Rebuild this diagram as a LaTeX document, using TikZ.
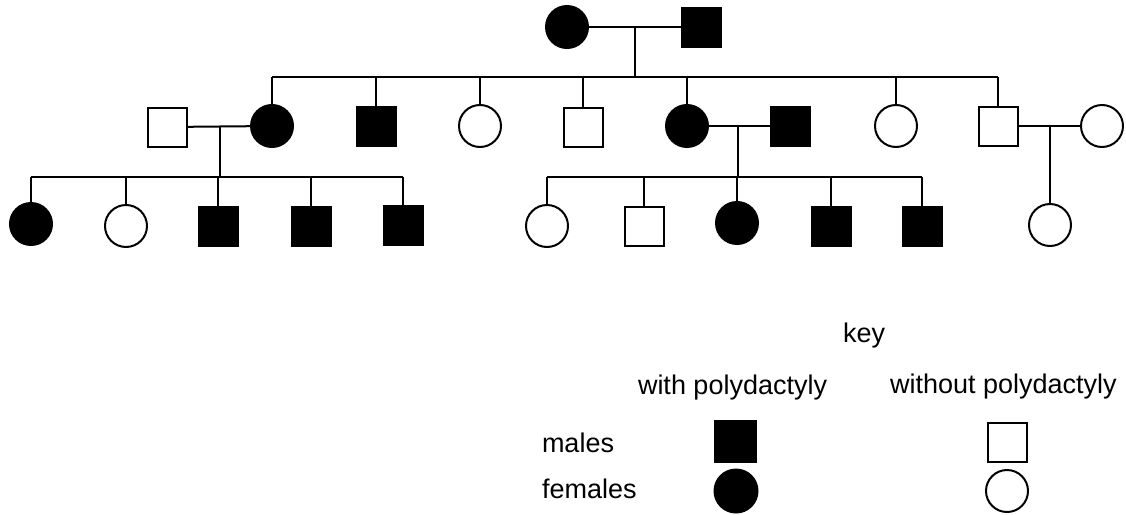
\documentclass[tikz,border=0pt]{standalone}
\usepackage{fontspec}
\setmainfont{Liberation Sans}
\newfontfamily\keyfont{Liberation Sans}
\begin{document}
\begin{tikzpicture}[x=1pt,y=-1pt,line width=2pt,
  fem/.style={circle,draw,minimum size=42pt,inner sep=0pt},
  mal/.style={rectangle,draw,minimum size=39pt,inner sep=0pt},
  aff/.style={fill=black},
  una/.style={fill=white},
  lbl/.style={anchor=base west,inner sep=0pt,font=\keyfont\fontsize{27}{32}\selectfont}]
\path[use as bounding box] (0,0) rectangle (1126,514);

% generation I
\node[fem,aff] (g1f) at (567,27) {};
\node[mal,aff] (g1m) at (701,27) {};

% generation II
\node[mal,una] (a) at (167,127) {};
\node[fem,aff] (b) at (272,126) {};
\node[mal,aff] (c) at (376,126) {};
\node[fem,una] (d) at (480,126) {};
\node[mal,una] (e) at (583,127) {};
\node[fem,aff] (f) at (687,126) {};
\node[mal,aff] (g) at (790,126) {};
\node[fem,una] (h) at (896,126) {};
\node[mal,una] (i) at (998,126) {};
\node[fem,una] (j) at (1102,126) {};

% generation III
\node[fem,aff] (k1) at (31,224) {};
\node[fem,una] (k2) at (126,226) {};
\node[mal,aff] (k3) at (218,226) {};
\node[mal,aff] (k4) at (311,226) {};
\node[mal,aff] (k5) at (403,225) {};
\node[fem,una] (r1) at (547,226) {};
\node[mal,una] (r2) at (644,226) {};
\node[fem,aff] (r3) at (737,223) {};
\node[mal,aff] (r4) at (831,226) {};
\node[mal,aff] (r5) at (922,226) {};
\node[fem,una] (s1) at (1050,225) {};

% marriage lines and their descent points
\coordinate (m1) at (635,27);
\coordinate (m1s) at (635,77);
\coordinate (m2) at (220,127);
\coordinate (m2s) at (220,177);
\coordinate (m3) at (738,126);
\coordinate (m3s) at (738,177);
\coordinate (m4) at (1050,126);

\draw (g1f) -- (g1m);
\draw (m1) -- (m1s);
\draw (b |- m1s) -- (i |- m1s);
\foreach \n in {b,c,d,e,f,h,i} \draw (\n) -- (\n |- m1s);

\draw (a) -- (b);
\draw (m2) -- (m2s);
\draw (k1 |- m2s) -- (k5 |- m2s);
\foreach \n in {k1,k2,k3,k4,k5} \draw (\n) -- (\n |- m2s);

\draw (f) -- (g);
\draw (m3) -- (m3s);
\draw (r1 |- m3s) -- (r5 |- m3s);
\foreach \n in {r1,r2,r3,r4,r5} \draw (\n) -- (\n |- m3s);

\draw (i) -- (j);
\draw (m4) -- (s1);

% key
\node[lbl] (keyt) at (842,342) {key};
\node[lbl] (withp) at (637,394) {with polydactyly};
\node[lbl] (withoutp) at (889,393) {without polydactyly};
\node[lbl] (males) at (541,452) {males};
\node[lbl] (females) at (541,498) {females};
\node[mal,aff,minimum size=41pt] (km1) at (735,441) {};
\node[mal,una] (km2) at (1007,442) {};
\node[fem,aff,minimum size=43pt] (kf1) at (736,491) {};
\node[fem,una] (kf2) at (1007,491) {};
\end{tikzpicture}
\end{document}
